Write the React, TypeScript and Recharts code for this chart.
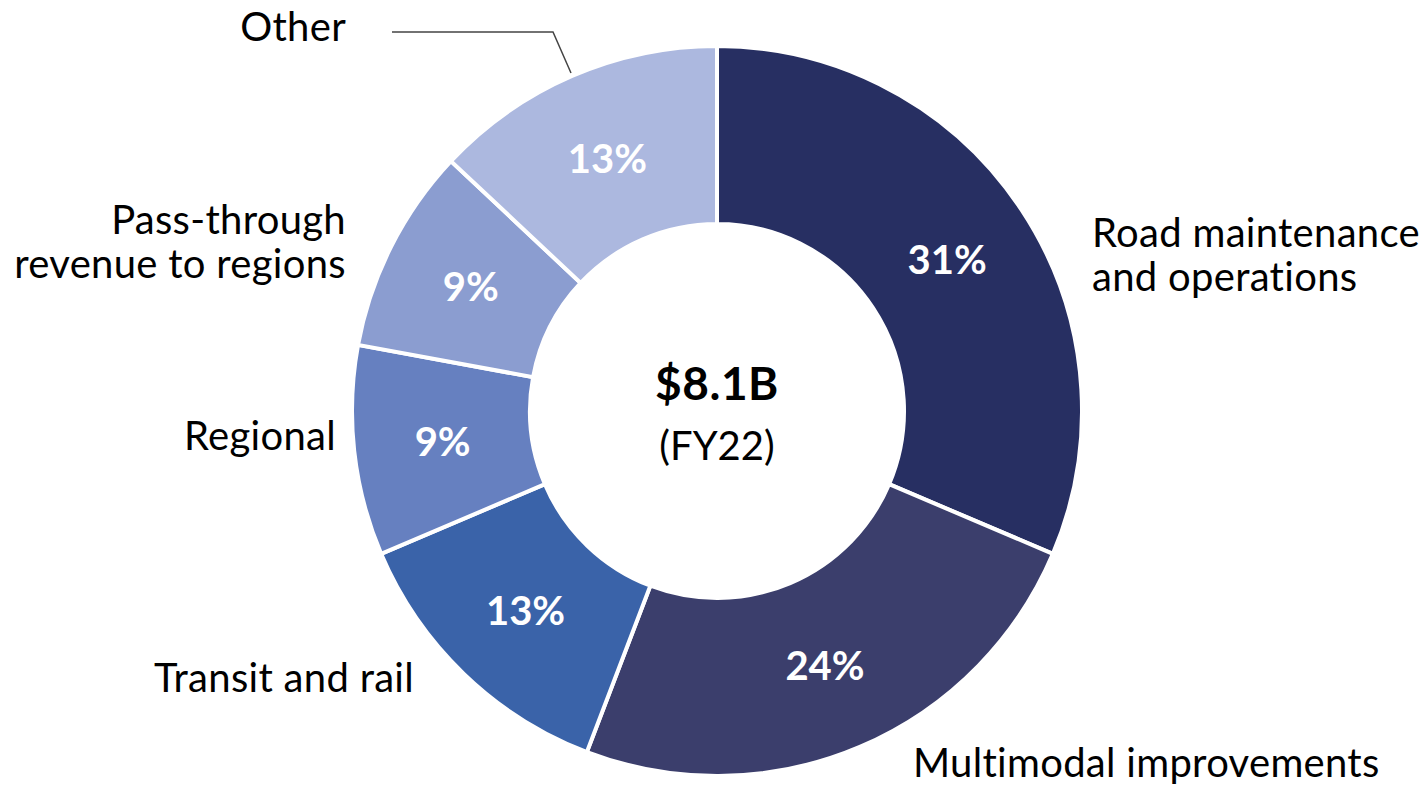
import { PieChart, Pie, Cell } from "recharts";

const categories = [
  "Road maintenance and operations",
  "Multimodal improvements",
  "Transit and rail",
  "Regional",
  "Pass-through revenue to regions",
  "Other",
];
const shares = [31.4, 24.4, 12.8, 9.3, 9.1, 13.0];
const totalLabel = "$8.1B";
const yearLabel = "(FY22)";

const colors = ["#272f62", "#3b3e6c", "#3a63a9", "#6680c0", "#8b9dd0", "#acb8df"];

// outer name labels, placed relative to the pie centre
const nameLayout: Record<string, { dx: number; dy: number; anchor: "start" | "end"; lines: string[] }> = {
  "Road maintenance and operations": { dx: 375, dy: -164, anchor: "start", lines: ["Road maintenance", "and operations"] },
  "Multimodal improvements": { dx: 196, dy: 366, anchor: "start", lines: ["Multimodal improvements"] },
  "Transit and rail": { dx: -303, dy: 281, anchor: "end", lines: ["Transit and rail"] },
  Regional: { dx: -381, dy: 39, anchor: "end", lines: ["Regional"] },
  "Pass-through revenue to regions": { dx: -371, dy: -177, anchor: "end", lines: ["Pass-through", "revenue to regions"] },
  Other: { dx: -371, dy: -370, anchor: "end", lines: ["Other"] },
};

const data = categories.map((name, i) => ({ name, value: shares[i] }));

const W = 1428;
const H = 786;
const CX = 717;
const CY = 411;
const FONT = "Lato, 'Open Sans', sans-serif";
const RAD = Math.PI / 180;

const renderLabel = (props: any) => {
  const { cx, cy, midAngle, innerRadius, outerRadius, percent, name, index } = props;
  const r = (innerRadius + outerRadius) / 2;
  const x = cx + r * Math.cos(-midAngle * RAD);
  const y = cy + r * Math.sin(-midAngle * RAD);
  const lay = nameLayout[name];
  return (
    <g key={`lbl-${index}`}>
      <text
        x={x}
        y={y}
        fill="#ffffff"
        textAnchor="middle"
        dominantBaseline="central"
        fontFamily={FONT}
        fontWeight={700}
        fontSize={40}
      >
        {`${Math.round(percent * 100)}%`}
      </text>
      {lay && (
        <text
          x={cx + lay.dx}
          y={cy + lay.dy}
          textAnchor={lay.anchor}
          fontFamily={FONT}
          fontSize={40}
          letterSpacing={0.3}
          fill="#000"
        >
          {lay.lines.map((ln, j) => (
            <tspan key={j} x={cx + lay.dx} dy={j === 0 ? 0 : 44}>
              {ln}
            </tspan>
          ))}
        </text>
      )}
      {name === "Other" && (
        <polyline
          points={`${cx - 325},${cy - 379} ${cx - 164},${cy - 379} ${cx - 146},${cy - 338}`}
          fill="none"
          stroke="#444"
          strokeWidth={1.5}
        />
      )}
    </g>
  );
};

export default function App() {
  return (
    <div style={{ position: "absolute", left: 0, top: 0, width: W, height: H, background: "#fff" }}>
      <PieChart width={W} height={H} margin={{ top: 0, right: 0, bottom: 0, left: 0 }}>
        <Pie
          data={data}
          dataKey="value"
          nameKey="name"
          cx={CX}
          cy={CY}
          innerRadius={187}
          outerRadius={365}
          startAngle={90}
          endAngle={-270}
          stroke="#ffffff"
          strokeWidth={4}
          label={renderLabel}
          labelLine={false}
          isAnimationActive={false}
        >
          {data.map((d, i) => (
            <Cell key={d.name} fill={colors[i]} />
          ))}
        </Pie>
        <text
          x={CX}
          y={CY - 11}
          textAnchor="middle"
          fontFamily={FONT}
          fontWeight={700}
          fontSize={46}
          letterSpacing={0.5}
          fill="#000"
        >
          {totalLabel}
        </text>
        <text x={CX} y={CY + 49} textAnchor="middle" fontFamily={FONT} fontSize={40} fill="#000">
          {yearLabel}
        </text>
      </PieChart>
    </div>
  );
}
